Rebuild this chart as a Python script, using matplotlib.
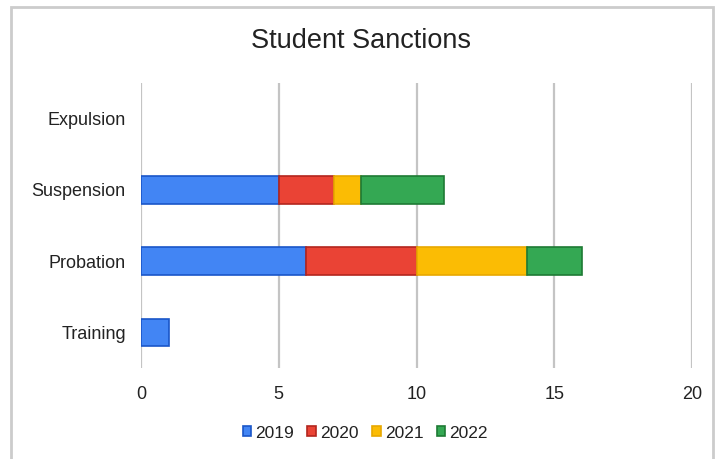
import matplotlib.pyplot as plt
import numpy as np
from matplotlib.patches import Rectangle

plt.rcParams["font.family"] = ["Liberation Sans", "DejaVu Sans"]

# Sanction counts per year
categories = ["Expulsion", "Suspension", "Probation", "Training"]
years = ["2019", "2020", "2021", "2022"]
counts_2019 = [0, 5, 6, 1]
counts_2020 = [0, 2, 4, 0]
counts_2021 = [0, 1, 4, 0]
counts_2022 = [0, 3, 2, 0]
series = [counts_2019, counts_2020, counts_2021, counts_2022]

fills = ["#4285F4", "#EA4335", "#FBBC04", "#34A853"]
edges = ["#1A56C8", "#B3261E", "#E8A800", "#1E7A34"]

fig = plt.figure(figsize=(7.17, 4.59), dpi=100)
ax = fig.add_axes([0.1967, 0.198, 0.7684, 0.621])

y = np.arange(len(categories))[::-1]
left = np.zeros(len(categories))
for vals, year, fc, ec in zip(series, years, fills, edges):
    vals = np.array(vals, dtype=float)
    nz = vals > 0
    ax.barh(y[nz], vals[nz], left=left[nz], height=0.39, color=fc, edgecolor=ec,
            linewidth=1.2, label=year, zorder=3)
    left += vals

ax.set_xlim(0, 20)
ax.set_ylim(-0.5, 3.5)
ax.set_xticks([0, 5, 10, 15, 20])
ax.set_yticks(y)
ax.set_yticklabels(categories)
ax.tick_params(length=0, labelsize=13, colors="#222222")
ax.tick_params(axis="x", pad=13)
ax.tick_params(axis="y", pad=11)
ax.grid(axis="x", color="#c4c4c4", linewidth=1.6, zorder=0)
for s in ax.spines.values():
    s.set_visible(False)

fig.suptitle("Student Sanctions", x=0.503, y=0.94, fontsize=19.5, color="#222222")

leg = ax.legend(loc="center", bbox_to_anchor=(0.407, -0.228), ncol=4, frameon=False,
                fontsize=12.5, handlelength=0.5, handleheight=0.5, handletextpad=0.25,
                columnspacing=0.75)
for t in leg.get_texts():
    t.set_color("#222222")

# outer frame around the chart
fig.patches.append(Rectangle((11 / 717, -0.05), (713 - 11) / 717, 1.05 - 7 / 459,
                             transform=fig.transFigure, fill=False,
                             edgecolor="#cccccc", linewidth=2))

fig.savefig("out.png", dpi=100)
